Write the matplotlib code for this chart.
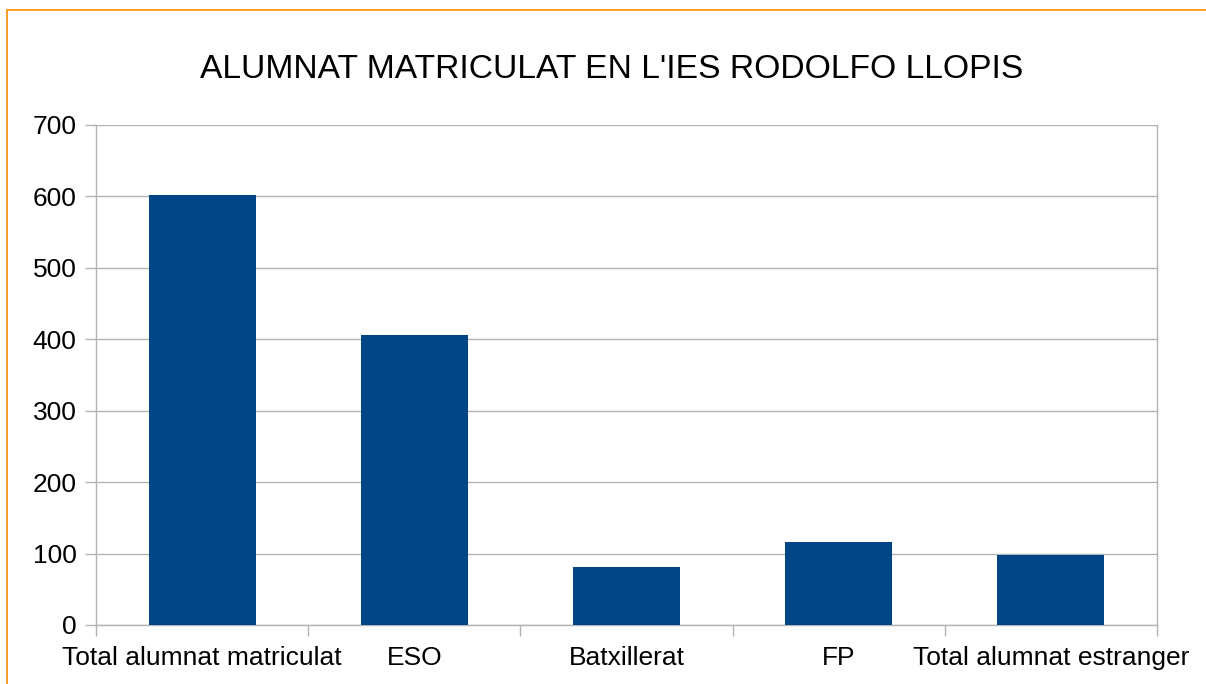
import matplotlib
matplotlib.use("Agg")
import matplotlib.pyplot as plt
from matplotlib.patches import Rectangle
import numpy as np

categories = ["Total alumnat matriculat", "ESO", "Batxillerat", "FP", "Total alumnat estranger"]
values = [602, 406, 81, 116, 98]
title = "ALUMNAT MATRICULAT EN L'IES RODOLFO LLOPIS"
yticks = [0, 100, 200, 300, 400, 500, 600, 700]

plt.rcParams['font.family'] = ['Liberation Sans', 'DejaVu Sans']

W, H = 1206, 684
fig = plt.figure(figsize=(W / 100, H / 100), dpi=100)

# orange frame (top and left edges visible)
fig.patches.append(Rectangle((7 / W, -0.1), 1.2, 1 - 10 / H + 0.1, transform=fig.transFigure,
                             fill=False, edgecolor='#ff8c00', linewidth=1.2, zorder=0))

ax = fig.add_axes([96 / W, 1 - 625 / H, (1157 - 96) / W, (625 - 125) / H])
x = np.arange(len(categories))
ax.bar(x, values, width=0.505, color='#004586', zorder=3)

ax.set_xlim(-0.5, len(categories) - 0.5)
ax.set_ylim(0, 700)
ax.set_yticks(yticks)
ax.set_yticklabels([str(v) for v in yticks])
ax.set_xticks(x)
ax.set_xticklabels(categories)
ax.set_xticks(np.arange(len(categories) + 1) - 0.5, minor=True)

grid_c = '#b3b3b3'
ax.yaxis.grid(True, color=grid_c, linewidth=1.0, zorder=0)
for s in ['left', 'right', 'bottom']:
    ax.spines[s].set_color(grid_c)
    ax.spines[s].set_linewidth(1.0)
ax.spines['top'].set_visible(False)

ax.tick_params(axis='y', length=8, width=1.0, color=grid_c, pad=6, labelsize=19, labelcolor='black')
ax.tick_params(axis='x', which='major', length=0, pad=15, labelsize=19, labelcolor='black')
ax.tick_params(axis='x', which='minor', length=8, width=1.0, color=grid_c)

fig.text(612 / W, 1 - 69 / H, title, ha='center', va='center', fontsize=24.2, color='black')

fig.savefig('out.png', dpi=100)
